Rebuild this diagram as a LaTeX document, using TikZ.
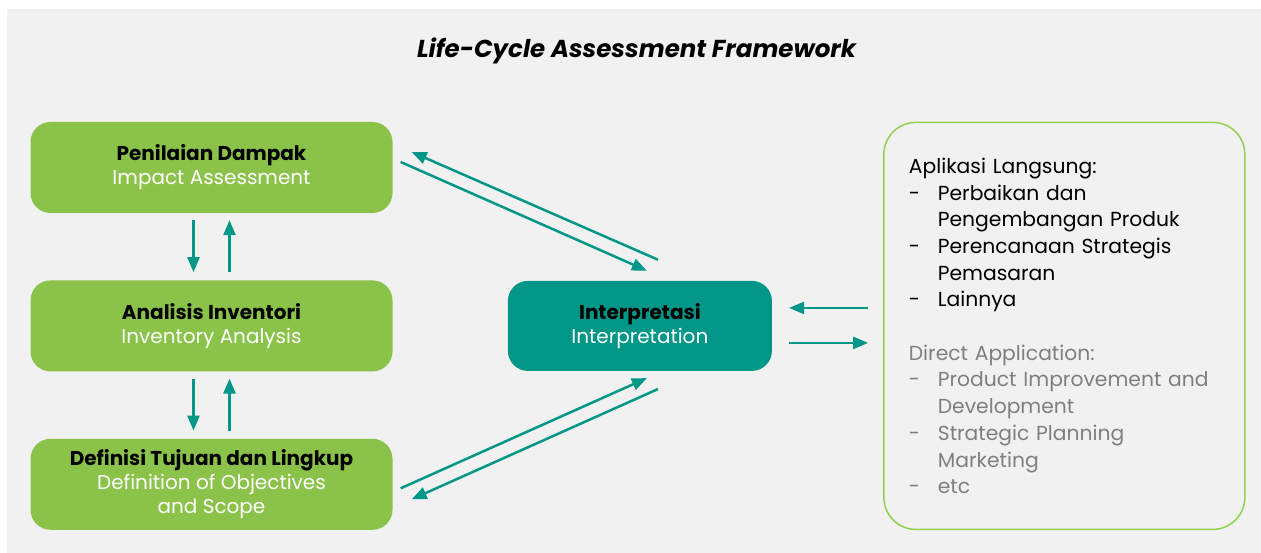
\documentclass[tikz,border=0pt]{standalone}
\usepackage{fontspec}
\setmainfont{Poppins}
\usepackage{tikz}
\usetikzlibrary{arrows.meta, positioning, shapes}

\definecolor{lcagreen}{HTML}{8BC34A}
\definecolor{lcateal}{HTML}{009688}
\definecolor{lcaback}{HTML}{F1F1F1}
\definecolor{lcaline}{HTML}{92D050}
\definecolor{lcagrey}{HTML}{7F7F7F}

\newcommand{\dashitem}[1]{\makebox[29pt][l]{-}#1}
\newcommand{\contline}[1]{\hspace*{29pt}#1}

\begin{document}
\begin{tikzpicture}[x=1pt, y=-1pt,
    stage/.style={rounded corners=20pt, fill=lcagreen, minimum width=362pt, minimum height=91pt,
        align=center, text=white, font=\fontsize{20}{24}\selectfont},
    flow/.style={-{Triangle[length=15pt,width=12pt]}, line width=2.5pt, draw=lcateal}]
            % page and grey panel
            \fill[white] (0,0) rectangle (1261,553);
            \fill[lcaback] (7,9) rectangle (1261,553);
            \useasboundingbox (0,0) rectangle (1261,553);

            \node (title) at (636.5,51) {\fontsize{24.5}{30}\selectfont\bfseries\itshape Life-Cycle Assessment Framework};

            \node[stage] (imp) at (211.5,167.5) {\textcolor{black}{\bfseries Penilaian Dampak}\\Impact Assessment};
            \node[stage] (inv) [below = 67pt of imp] {\textcolor{black}{\bfseries Analisis Inventori}\\Inventory Analysis};
            \node[stage] (def) [below = 67pt of inv] {\textcolor{black}{\bfseries Definisi Tujuan dan Lingkup}\\Definition of Objectives\\and Scope};
            \node[stage, fill=lcateal, minimum width=264pt, minimum height=90pt] (interp) [right = 115pt of inv]
                {\textcolor{black}{\bfseries Interpretasi}\\Interpretation};
            \node[draw=lcaline, line width=1.5pt, rounded corners=32pt, minimum width=361pt, minimum height=407pt,
                text width=311pt, inner xsep=25pt, align=left, font=\fontsize{20.3}{26.7}\selectfont] (app) [right = 111pt of interp]
                {Aplikasi Langsung:\\
                 \dashitem{Perbaikan dan}\\
                 \contline{Pengembangan Produk}\\
                 \dashitem{Perencanaan Strategis}\\
                 \contline{Pemasaran}\\
                 \dashitem{Lainnya}\\
                 \strut\\
                 \textcolor{lcagrey}{Direct Application:}\\
                 \textcolor{lcagrey}{\dashitem{Product Improvement and}}\\
                 \textcolor{lcagrey}{\contline{Development}}\\
                 \textcolor{lcagrey}{\dashitem{Strategic Planning}}\\
                 \textcolor{lcagrey}{\contline{Marketing}}\\
                 \textcolor{lcagrey}{\dashitem{etc}}};

            % between the stages
            \path ([xshift=-18pt,yshift=-7pt]imp.south) edge[flow] ([xshift=-18pt,yshift=8pt]inv.north);
            \path ([xshift=18pt,yshift=8pt]inv.north) edge[flow] ([xshift=18pt,yshift=-7pt]imp.south);
            \path ([xshift=-18pt,yshift=-7pt]inv.south) edge[flow] ([xshift=-18pt,yshift=8pt]def.north);
            \path ([xshift=18pt,yshift=8pt]def.north) edge[flow] ([xshift=18pt,yshift=-7pt]inv.south);

            % to and from the interpretation
            \path ([xshift=8pt,yshift=5.5pt]imp.east) edge[flow] ([xshift=7pt,yshift=10pt]interp.north);
            \path ([xshift=18pt,yshift=21pt]interp.north) edge[flow] ([xshift=19pt,yshift=15.5pt]imp.east);
            \path ([xshift=8pt,yshift=-4pt]def.east) edge[flow] ([xshift=7pt,yshift=-7pt]interp.south);
            \path ([xshift=18pt,yshift=-18pt]interp.south) edge[flow] ([xshift=19pt,yshift=-15pt]def.east);

            % to and from the applications
            \path ([xshift=-15pt,yshift=18pt]app.west) edge[flow] ([xshift=17pt,yshift=18pt]interp.east);
            \path ([xshift=17pt,yshift=-17pt]interp.east) edge[flow] ([xshift=-15pt,yshift=-17pt]app.west);
\end{tikzpicture}
\end{document}
